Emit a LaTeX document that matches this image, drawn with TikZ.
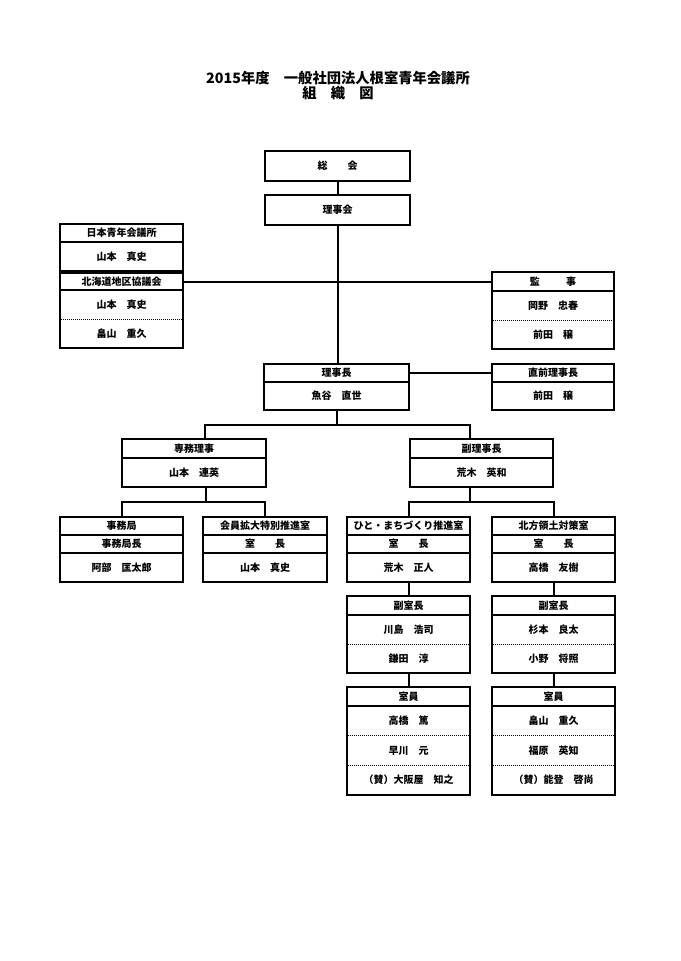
\documentclass[tikz,border=0pt]{standalone}
\usepackage{fontspec}
\setmainfont{Noto Sans CJK JP}
\newcommand\cel[6]{\node[cell,minimum width={(#4-#2)*1pt},minimum height={(#5-#3)*1pt}] (#1) at ({(#2+#4)/2},{(#3+#5)/2}) {#6};}
\newcommand\rowt[6]{\node[rowbox,minimum width={(#4-#2)*1pt},minimum height={(#5-#3)*1pt}] (#1) at ({(#2+#4)/2},{(#3+#5)/2}) {#6};}
\begin{document}
\begin{tikzpicture}[x=1pt,y=-1pt,
  cell/.style={draw,line width=2.2pt,inner sep=0pt,font=\bfseries\fontsize{10}{12}\selectfont},
  rowbox/.style={inner sep=0pt,font=\bfseries\fontsize{10}{12}\selectfont},
  link/.style={line width=2pt},
  dotline/.style={line width=1pt,dash pattern=on 1pt off 1pt},
  ttl/.style={inner sep=0pt,font=\bfseries\fontsize{14.3}{16}\selectfont}]
\useasboundingbox[fill=white] (0,0) rectangle (680,961);

% title
\node[ttl] (t1) at (338,78) {2015年度　一般社団法人根室青年会議所};
\node[ttl] (t2) at (338,93) {組　織　図};

% top
\cel{sokai}{265}{151}{410}{181}{総　　会}
\cel{rijikai}{265}{195}{410}{225}{理事会}

% left JC
\cel{jcH}{60}{224}{183}{242}{日本青年会議所}
\cel{jcB}{60}{242}{183}{271}{山本　真史}
\cel{hkH}{60}{273}{183}{290}{北海道地区協議会}
\cel{hkB}{60}{290}{183}{348}{}
\rowt{hk1}{60}{290}{183}{319}{山本　真史}
\rowt{hk2}{60}{319}{183}{348}{畠山　重久}
\draw[dotline] ([xshift=1pt]hk1.south west) -- ([xshift=-1pt]hk1.south east);

% kanji
\cel{kjH}{492}{272}{614}{291}{監\hspace{2.65em}事}
\cel{kjB}{492}{291}{614}{349}{}
\rowt{kj1}{492}{291}{614}{320}{岡野　忠春}
\rowt{kj2}{492}{320}{614}{349}{前田　穣}
\draw[dotline] ([xshift=1pt]kj1.south west) -- ([xshift=-1pt]kj1.south east);

% rijicho
\cel{rcH}{264}{364}{409}{382}{理事長}
\cel{rcB}{264}{382}{409}{410}{魚谷　直世}
\cel{zpH}{492}{364}{614}{382}{直前理事長}
\cel{zpB}{492}{382}{614}{410}{前田　穣}

% senmu / fuku
\cel{smH}{122}{439}{266}{458}{専務理事}
\cel{smB}{122}{458}{266}{487}{山本　連英}
\cel{frH}{410}{439}{553}{458}{副理事長}
\cel{frB}{410}{458}{553}{487}{荒木　英和}

% level 4
\cel{jmH}{60}{517}{183}{535}{事務局}
\cel{jmM}{60}{535}{183}{553}{事務局長}
\cel{jmB}{60}{553}{183}{582}{阿部　匡太郎}
\cel{kkH}{203}{517}{327}{535}{会員拡大特別推進室}
\cel{kkM}{203}{535}{327}{553}{室　　長}
\cel{kkB}{203}{553}{327}{582}{山本　真史}
\cel{htH}{347}{517}{470}{535}{ひと・まちづくり推進室}
\cel{htM}{347}{535}{470}{553}{室　　長}
\cel{htB}{347}{553}{470}{582}{荒木　正人}
\cel{hpH}{492}{517}{615}{535}{北方領土対策室}
\cel{hpM}{492}{535}{615}{553}{室　　長}
\cel{hpB}{492}{553}{615}{582}{高橋　友樹}

% fuku shitsucho
\cel{fsLH}{347}{596}{470}{615}{副室長}
\cel{fsLB}{347}{615}{470}{673}{}
\rowt{fsL1}{347}{615}{470}{644}{川島　浩司}
\rowt{fsL2}{347}{644}{470}{673}{鎌田　淳}
\draw[dotline] ([xshift=1pt]fsL1.south west) -- ([xshift=-1pt]fsL1.south east);
\cel{fsRH}{492}{596}{615}{615}{副室長}
\cel{fsRB}{492}{615}{615}{673}{}
\rowt{fsR1}{492}{615}{615}{644}{杉本　良太}
\rowt{fsR2}{492}{644}{615}{673}{小野　将照}
\draw[dotline] ([xshift=1pt]fsR1.south west) -- ([xshift=-1pt]fsR1.south east);

% shitsuin
\cel{siLH}{347}{687}{470}{706}{室員}
\cel{siLB}{347}{706}{470}{795}{}
\rowt{siL1}{347}{706}{470}{735.7}{高橋　篤}
\rowt{siL2}{347}{735.7}{470}{765.3}{早川　元}
\rowt{siL3}{347}{765.3}{470}{795}{（賛）大阪屋　知之}
\draw[dotline] ([xshift=1pt]siL1.south west) -- ([xshift=-1pt]siL1.south east);
\draw[dotline] ([xshift=1pt]siL2.south west) -- ([xshift=-1pt]siL2.south east);
\cel{siRH}{492}{687}{615}{706}{室員}
\cel{siRB}{492}{706}{615}{795}{}
\rowt{siR1}{492}{706}{615}{735.7}{畠山　重久}
\rowt{siR2}{492}{735.7}{615}{765.3}{福原　英知}
\rowt{siR3}{492}{765.3}{615}{795}{（賛）能登　啓尚}
\draw[dotline] ([xshift=1pt]siR1.south west) -- ([xshift=-1pt]siR1.south east);
\draw[dotline] ([xshift=1pt]siR2.south west) -- ([xshift=-1pt]siR2.south east);

% connectors
\draw[link] (sokai.south) -- (rijikai.north);
\draw[link] (rijikai.south) -- (rijikai.south |- rcH.north);
\draw[link] (hkH.east) -- (hkH.east -| kjH.west);
\draw[link] (rcH.east) -- (rcH.east -| zpH.west);

\coordinate (b1L) at (205,425);
\coordinate (b1R) at (470,425);
\draw[link] (rcB.south) -- (rcB.south |- b1L);
\draw[link] (b1L |- smH.north) -- (b1L) -- (b1R) -- (b1R |- frH.north);

\coordinate (b2L) at (206,502);
\coordinate (b3R) at (470,502);
\draw[link] (smB.south -| b2L) -- (b2L);
\draw[link] (jmH.north) -- (jmH.north |- b2L) -- (kkH.north |- b2L) -- (kkH.north);
\draw[link] (frB.south -| b3R) -- (b3R);
\draw[link] (htH.north) -- (htH.north |- b3R) -- (hpH.north |- b3R) -- (hpH.north);

\draw[link] (htB.south) -- (fsLH.north);
\draw[link] (fsLB.south) -- (siLH.north);
\draw[link] (hpB.south) -- (fsRH.north);
\draw[link] (fsRB.south) -- (siRH.north);
\end{tikzpicture}
\end{document}
